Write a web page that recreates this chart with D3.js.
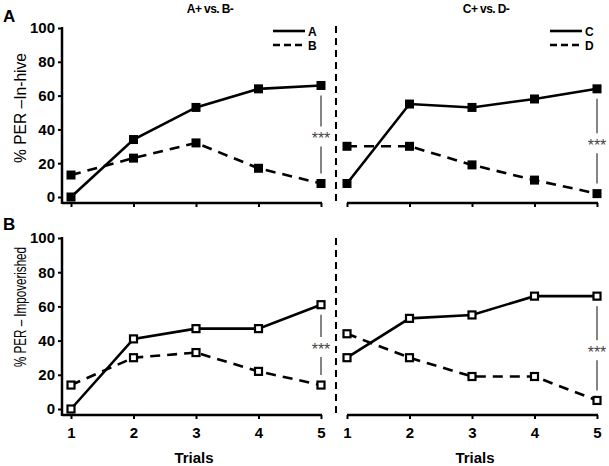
<!DOCTYPE html>
<html>
<head>
<meta charset="utf-8">
<script src="https://cdn.jsdelivr.net/npm/d3@7"></script>
<style>
  body { margin: 0; background: #fff; }
  svg { display: block; font-family: "Liberation Sans", Arial, sans-serif; }
</style>
</head>
<body>
<svg id="chart" width="609" height="466"></svg>
<script>
// ---- data ----
const trials = [1, 2, 3, 4, 5];
const yTicks = [0, 20, 40, 60, 80, 100];
const titles = ["A+ vs. B-", "C+ vs. D-"];
const rowLabels = ["A", "B"];
const yLabels = ["% PER \u2013In-hive", "% PER \u2013 Impoverished"];
const legendLeft = ["A", "B"];
const legendRight = ["C", "D"];
// In-hive (row A)
const inhiveA = [0, 34, 53, 64, 66];
const inhiveB = [13, 23, 32, 17, 8];
const inhiveC = [8, 55, 53, 58, 64];
const inhiveD = [30, 30, 19, 10, 2];
// Impoverished (row B)
const impA = [0, 41, 47, 47, 61];
const impB = [14, 30, 33, 22, 14];
const impC = [30, 53, 55, 66, 66];
const impD = [44, 30, 19, 19, 5];
const sigLabel = "***";

const svg = d3.select("#chart");

const xLeft = d3.scaleLinear().domain([1, 5]).range([71, 321]);
const xRight = d3.scaleLinear().domain([1, 5]).range([347, 597]);
const rows = [
  { y: d3.scaleLinear().domain([0, 100]).range([197, 28]), axisY: 203, left: [inhiveA, inhiveB], right: [inhiveC, inhiveD], open: false, tickLabels: false, divTop: 26, divBot: 206 },
  { y: d3.scaleLinear().domain([0, 100]).range([409, 238]), axisY: 415, left: [impA, impB], right: [impC, impD], open: true, tickLabels: true, divTop: 238, divBot: 418 }
];

rows.forEach((r, ri) => {
  const g = svg.append("g");
  // y axis
  const ya = g.append("g").attr("transform", "translate(62,0)")
    .call(d3.axisLeft(r.y).tickValues(yTicks).tickSize(4).tickPadding(3));
  ya.select(".domain").remove();
  ya.selectAll(".tick line").attr("stroke", "#000").attr("stroke-width", 2);
  ya.selectAll(".tick text").attr("font-size", 15).attr("font-weight", "bold")
    .attr("font-family", "Liberation Sans, Arial, sans-serif").attr("fill", "#000");
  g.append("line").attr("x1", 62).attr("x2", 62).attr("y1", r.y(100) - 1).attr("y2", r.axisY + 1)
    .attr("stroke", "#000").attr("stroke-width", 2.5);

  // x axes
  [[xLeft, 62], [xRight, 347]].forEach(([xs, x0]) => {
    const xa = g.append("g").attr("transform", `translate(0,${r.axisY})`)
      .call(d3.axisBottom(xs).tickValues(trials).tickSize(4).tickPadding(8).tickFormat(d3.format("d")));
    xa.select(".domain").remove();
    xa.selectAll(".tick line").attr("stroke", "#000").attr("stroke-width", 2);
    if (r.tickLabels) {
      xa.selectAll(".tick text").attr("font-size", 15).attr("font-weight", "bold")
        .attr("font-family", "Liberation Sans, Arial, sans-serif").attr("fill", "#000");
    } else {
      xa.selectAll(".tick text").remove();
    }
    g.append("line").attr("x1", x0).attr("x2", xs(5) + 1).attr("y1", r.axisY).attr("y2", r.axisY)
      .attr("stroke", "#000").attr("stroke-width", 2.5);
  });

  // divider
  g.append("line").attr("x1", 336).attr("x2", 336).attr("y1", r.divTop).attr("y2", r.divBot)
    .attr("stroke", "#000").attr("stroke-width", 2).attr("stroke-dasharray", "7,5");

  // series
  const drawSeries = (xs, vals, dashed) => {
    const line = d3.line().x((d, i) => xs(trials[i])).y(d => r.y(d));
    g.append("path").datum(vals).attr("d", line).attr("fill", "none")
      .attr("stroke", "#000").attr("stroke-width", 2.6)
      .attr("stroke-dasharray", dashed ? "10,7" : null);
  };
  const drawMarkers = (xs, vals) => {
    g.selectAll(null).data(vals).enter().append("rect")
      .attr("x", (d, i) => xs(trials[i]) - (r.open ? 3.5 : 4.5))
      .attr("y", d => r.y(d) - (r.open ? 3.5 : 4.5))
      .attr("width", r.open ? 7 : 9).attr("height", r.open ? 7 : 9)
      .attr("fill", r.open ? "#fff" : "#000")
      .attr("stroke", "#000").attr("stroke-width", r.open ? 2.2 : 0);
  };
  [[xLeft, r.left], [xRight, r.right]].forEach(([xs, pair]) => {
    drawSeries(xs, pair[0], false);
    drawSeries(xs, pair[1], true);
    drawMarkers(xs, pair[0]);
    drawMarkers(xs, pair[1]);
    // significance
    const hi = r.y(pair[0][4]), lo = r.y(pair[1][4]);
    const mid = (hi + lo) / 2 + 2;
    const xx = xs(5);
    g.append("line").attr("x1", xx).attr("x2", xx).attr("y1", hi + 10).attr("y2", mid - 10)
      .attr("stroke", "#333").attr("stroke-width", 1.2);
    g.append("line").attr("x1", xx).attr("x2", xx).attr("y1", mid + 10).attr("y2", lo - 10)
      .attr("stroke", "#333").attr("stroke-width", 1.2);
    g.append("text").attr("x", xx).attr("y", mid + 8).attr("text-anchor", "middle")
      .attr("font-size", 16).attr("fill", "#444").text(sigLabel);
  });

  // row label
  svg.append("text").attr("x", 3).attr("y", ri === 0 ? 22 : 230)
    .attr("font-size", 17).attr("font-weight", "bold").text(rowLabels[ri]);

  // y label
  const cy = ri === 0 ? 108 : 307;
  svg.append("text").attr("transform", `translate(26,${cy}) rotate(-90)`)
    .attr("text-anchor", "middle").attr("font-size", 16)
    .attr("textLength", ri === 0 ? 110 : 120).attr("lengthAdjust", "spacingAndGlyphs")
    .text(yLabels[ri]);
});

// titles
[[210, titles[0]], [486, titles[1]]].forEach(([x, t]) => {
  svg.append("text").attr("x", x).attr("y", 13).attr("text-anchor", "middle")
    .attr("font-size", 12).attr("font-weight", "bold").attr("letter-spacing", -0.6).text(t);
});

// x titles
[[194], [475]].forEach(([x]) => {
  svg.append("text").attr("x", x).attr("y", 463).attr("text-anchor", "middle")
    .attr("font-size", 15).attr("font-weight", "bold").text("Trials");
});

// legends
const drawLegend = (x1, x2, labels) => {
  labels.forEach((lab, i) => {
    const yy = i === 0 ? 31 : 45;
    svg.append("line").attr("x1", x1).attr("x2", x2).attr("y1", yy).attr("y2", yy)
      .attr("stroke", "#000").attr("stroke-width", 2.6)
      .attr("stroke-dasharray", i === 0 ? null : "7,4");
    svg.append("text").attr("x", x2 + 3).attr("y", yy + 4.5)
      .attr("font-size", 12).attr("font-weight", "bold").text(lab);
  });
};
drawLegend(273, 305, legendLeft);
drawLegend(550, 582, legendRight);
</script>
</body>
</html>
